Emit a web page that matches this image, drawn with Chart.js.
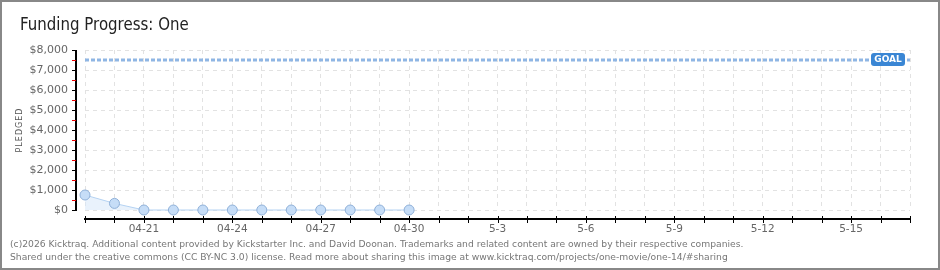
<!DOCTYPE html>
<html>
<head>
<meta charset="utf-8">
<script src="https://cdn.jsdelivr.net/npm/chart.js@4.4.0/dist/chart.umd.min.js"></script>
<style>
  body { margin: 0; background: #fff; }
  #wrap { position: relative; width: 940px; height: 270px; overflow: hidden; }
  #frame { position: absolute; left: 0; top: 0; width: 940px; height: 270px; box-sizing: border-box; border: 2px solid #888; pointer-events: none; }
  #title { position: absolute; left: 20px; top: 14px; font: 15px "DejaVu Sans", sans-serif; color: #222; transform: scaleY(1.12); transform-origin: left top; }
  #foot { position: absolute; left: 10px; top: 237px; font: 9.2px "DejaVu Sans", sans-serif; color: #777; line-height: 13px; white-space: nowrap; }
  canvas { position: absolute; left: 0; top: 0; }
</style>
</head>
<body>
<div id="wrap">
  <canvas id="chart" width="940" height="270"></canvas>
  <div id="title">Funding Progress: One</div>
  <div id="foot">(c)2026 Kicktraq. Additional content provided by Kickstarter Inc. and David Doonan. Trademarks and related content are owned by their respective companies.<br>Shared under the creative commons (CC BY-NC 3.0) license. Read more about sharing this image at www.kicktraq.com/projects/one-movie/one-14/#sharing</div>
  <div id="frame"></div>
</div>
<script>
// dates on the x axis (04-19 .. 5-17)
const days = ['04-19', '04-20', '04-21', '04-22', '04-23', '04-24', '04-25', '04-26', '04-27', '04-28', '04-29', '04-30',
  '5-1', '5-2', '5-3', '5-4', '5-5', '5-6', '5-7', '5-8', '5-9', '5-10', '5-11', '5-12', '5-13', '5-14', '5-15', '5-16', '5-17'];
// pledged so far, one value per day
const pledged = [750, 330, 0, 0, 0, 0, 0, 0, 0, 0, 0, 0];
const goal = 7500;
const yTicks = [0, 1000, 2000, 3000, 4000, 5000, 6000, 7000, 8000];

const axesPlugin = {
    id: 'axes',
    afterDraw(chart) {
        const ctx = chart.ctx;
        const x = chart.scales.x, y = chart.scales.y;
        const area = chart.chartArea;
        ctx.save();
        // y axis line + ticks
        const ax = area.left - 9;
        ctx.strokeStyle = '#000';
        ctx.lineWidth = 2;
        ctx.beginPath();
        ctx.moveTo(ax, y.getPixelForValue(8000));
        ctx.lineTo(ax, y.getPixelForValue(0) + 1);
        ctx.stroke();
        ctx.lineWidth = 1;
        yTicks.forEach(v => {
            const py = Math.round(y.getPixelForValue(v)) + 0.5;
            ctx.strokeStyle = '#000';
            ctx.beginPath(); ctx.moveTo(ax - 4, py); ctx.lineTo(ax, py); ctx.stroke();
            if (v < 8000) {
                const pr = Math.round(y.getPixelForValue(v + 500)) + 0.5;
                ctx.strokeStyle = '#e00';
                ctx.beginPath(); ctx.moveTo(ax - 4, pr); ctx.lineTo(ax, pr); ctx.stroke();
            }
        });
        // x axis line + ticks
        const ay = area.bottom + 9;
        ctx.strokeStyle = '#000';
        ctx.lineWidth = 2;
        ctx.beginPath();
        ctx.moveTo(area.left - 1, ay);
        ctx.lineTo(area.right + 1, ay);
        ctx.stroke();
        ctx.lineWidth = 1;
        days.forEach((d, i) => {
            const px = Math.round(x.getPixelForValue(i)) + 0.5;
            ctx.beginPath(); ctx.moveTo(px, ay - 3); ctx.lineTo(px, ay + 4); ctx.stroke();
        });
        // goal badge
        const gy = y.getPixelForValue(goal);
        const bx = area.right - 39, bw = 34, bh = 13;
        ctx.fillStyle = '#3a86d4';
        ctx.beginPath();
        ctx.roundRect(bx, gy - 7, bw, bh, 3);
        ctx.fill();
        ctx.fillStyle = '#fff';
        ctx.font = 'bold 9px "DejaVu Sans", sans-serif';
        ctx.textAlign = 'center';
        ctx.textBaseline = 'middle';
        ctx.fillText('GOAL', bx + bw / 2, gy);
        // y title
        ctx.translate(20, 130);
        ctx.rotate(-Math.PI / 2);
        ctx.fillStyle = '#555';
        ctx.font = '8px "DejaVu Sans", sans-serif';
        ctx.letterSpacing = '1px';
        ctx.fillText('PLEDGED', 0, 0);
        ctx.restore();
    }
};

new Chart(document.getElementById('chart'), {
    type: 'line',
    data: {
        labels: days,
        datasets: [{
            data: pledged,
            clip: false,
            borderColor: '#b4d2f2',
            borderWidth: 1,
            backgroundColor: 'rgba(215, 232, 250, 0.55)',
            fill: 'origin',
            tension: 0,
            pointRadius: 5,
            pointBackgroundColor: '#c6ddf7',
            pointBorderColor: '#8fb0d8',
            pointBorderWidth: 1
        }, {
            data: days.map(() => goal),
            borderColor: '#8fb6e4',
            borderWidth: 3,
            borderDash: [4, 2],
            pointRadius: 0,
            fill: false
        }]
    },
    options: {
        responsive: false,
        animation: false,
        layout: { padding: { left: 0, right: 30, top: 50, bottom: 0 } },
        plugins: { legend: { display: false }, tooltip: { enabled: false } },
        scales: {
            x: {
                offset: false,
                afterFit: s => { s.height = 60; },
                grid: { color: '#e2e2e2', drawTicks: false },
                border: { display: false, dash: [4, 4] },
                ticks: {
                    autoSkip: false, maxRotation: 0, padding: 13,
                    color: '#666', font: { family: '"DejaVu Sans"', size: 10.5 },
                    callback: (v, i) => (i % 3 === 2 ? days[i] : '')
                }
            },
            y: {
                min: 0, max: 8000,
                afterFit: s => { s.width = 85; },
                afterBuildTicks: s => { s.ticks = yTicks.map(v => ({ value: v })); },
                grid: { color: '#e2e2e2', drawTicks: false },
                border: { display: false, dash: [4, 4] },
                ticks: {
                    padding: 17,
                    color: '#666', font: { family: '"DejaVu Sans"', size: 11 },
                    callback: v => '$' + v.toLocaleString('en-US')
                }
            }
        }
    },
    plugins: [axesPlugin]
});
</script>
</body>
</html>
